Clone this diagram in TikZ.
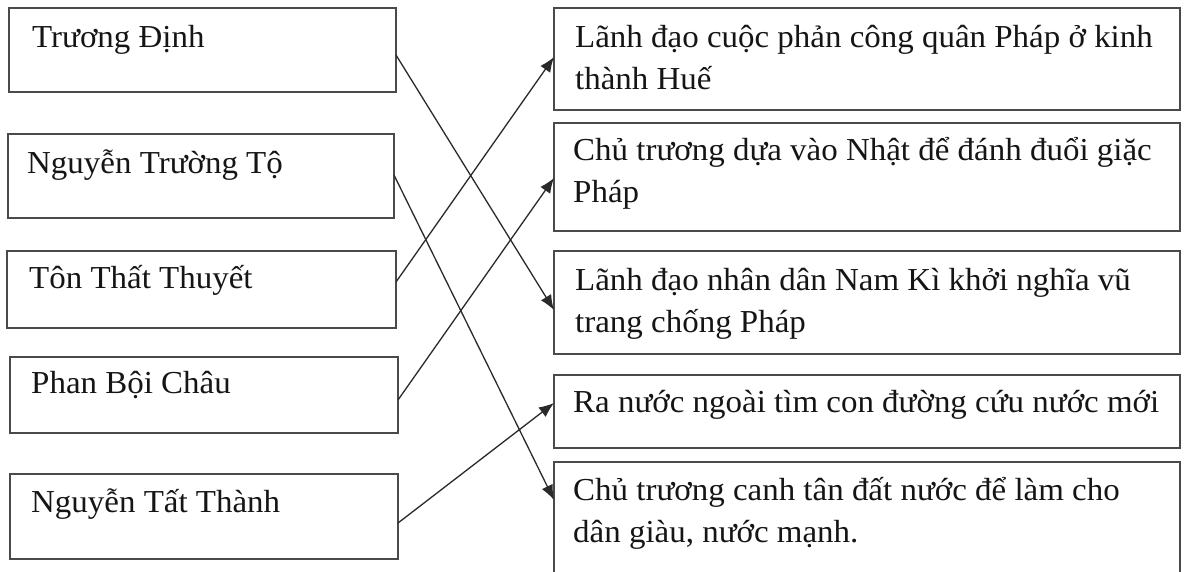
\documentclass[tikz,border=0pt]{standalone}
\usepackage{fontspec}
\setmainfont{Liberation Serif}[FakeStretch=1.03]
\usetikzlibrary{arrows.meta}
\definecolor{boxgray}{HTML}{4A4A4A}
\definecolor{linecol}{HTML}{2A2A2A}
\definecolor{textcol}{HTML}{151515}
\begin{document}
\begin{tikzpicture}[x=1pt,y=-1pt,
  box/.style={draw=boxgray, line width=1.7pt, anchor=north west, inner sep=0pt, outer sep=0pt},
  txt/.style={anchor=base west, inner sep=0pt, font=\fontsize{32}{42}\selectfont, text=textcol},
  link/.style={draw=linecol, line width=1.3pt, -{Latex[length=15pt,width=12pt]}}]
\useasboundingbox (0,0) rectangle (1184,571);
\clip (0,0) rectangle (1184,571);
\fill[white] (0,0) rectangle (1184,571);
% left boxes
\node[box, minimum width=387pt, minimum height=84pt] (L1) at (9,8) {};
\node[box, minimum width=386pt, minimum height=84pt] (L2) at (8,134) {};
\node[box, minimum width=389pt, minimum height=77pt] (L3) at (7,251) {};
\node[box, minimum width=388pt, minimum height=76pt] (L4) at (10,357) {};
\node[box, minimum width=388pt, minimum height=85pt] (L5) at (10,474) {};
% right boxes
\node[box, minimum width=626pt, minimum height=102pt] (R1) at (554,8) {};
\node[box, minimum width=626pt, minimum height=108pt] (R2) at (554,123) {};
\node[box, minimum width=626pt, minimum height=103pt] (R3) at (554,251) {};
\node[box, minimum width=626pt, minimum height=73pt] (R4) at (554,375) {};
\node[box, minimum width=626pt, minimum height=130pt] (R5) at (554,462) {};
% left texts
\node[txt] (t1) at (32,47) {Trương Định};
\node[txt] (t2) at (27,173) {Nguyễn Trường Tộ};
\node[txt] (t3) at (29,288) {Tôn Thất Thuyết};
\node[txt] (t4) at (31,393) {Phan Bội Châu};
\node[txt] (t5) at (31,512) {Nguyễn Tất Thành};
% right texts
\node[txt] (r1a) at (575,47) {Lãnh đạo cuộc phản công quân Pháp ở kinh};
\node[txt] (r1b) at (575,89) {thành Huế};
\node[txt] (r2a) at (573,160) {Chủ trương dựa vào Nhật để đánh đuổi giặc};
\node[txt] (r2b) at (573,202) {Pháp};
\node[txt] (r3a) at (575,290) {Lãnh đạo nhân dân Nam Kì khởi nghĩa vũ};
\node[txt] (r3b) at (575,332) {trang chống Pháp};
\node[txt] (r4a) at (573,412) {Ra nước ngoài tìm con đường cứu nước mới};
\node[txt] (r5a) at (573,500) {Chủ trương canh tân đất nước để làm cho};
\node[txt] (r5b) at (573,542) {dân giàu, nước mạnh.};
% connectors
\draw[link] ([yshift=-5pt]L1.east) -- ([yshift=-7.5pt]R3.west);
\draw[link] ([yshift=1pt]L2.east) -- ([yshift=-38pt]R5.north west);
\draw[link] ([yshift=7.5pt]L3.east) -- ([yshift=2pt]R1.west);
\draw[link] ([yshift=-5pt]L4.east) -- ([yshift=-1pt]R2.west);
\draw[link] ([yshift=-6.5pt]L5.east) -- ([yshift=8.5pt]R4.west);
\end{tikzpicture}
\end{document}
